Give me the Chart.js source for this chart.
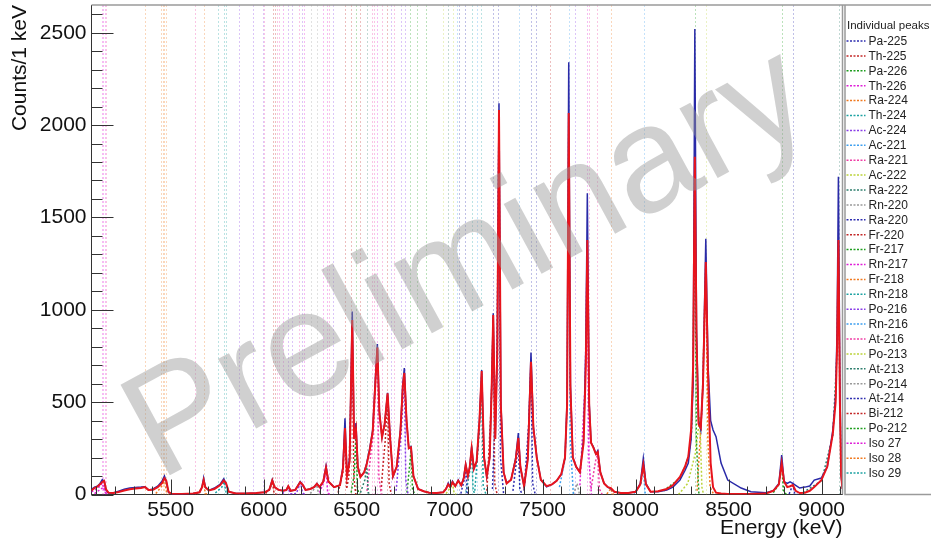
<!DOCTYPE html>
<html>
<head>
<meta charset="utf-8">
<script src="https://cdn.jsdelivr.net/npm/chart.js@4.4.1/dist/chart.umd.min.js"></script>
<style>
  html, body { margin: 0; padding: 0; background: #fff; }
  #wrap { width: 931px; height: 543px; }
</style>
</head>
<body>
<div id="wrap"><canvas id="spectrum"></canvas></div>
<script>
const FONT = '"Liberation Sans", Arial, sans-serif';

// legend entries (fit components)
const isotopes = ["Pa-225", "Th-225", "Pa-226", "Th-226", "Ra-224", "Th-224", "Ac-224", "Ac-221",
  "Ra-221", "Ac-222", "Ra-222", "Rn-220", "Ra-220", "Fr-220", "Fr-217", "Rn-217", "Fr-218",
  "Rn-218", "Po-216", "Rn-216", "At-216", "Po-213", "At-213", "Po-214", "At-214", "Bi-212",
  "Po-212", "Iso 27", "Iso 28", "Iso 29"];
const colorCycle = ["#2e2eb0", "#c42828", "#1f9e1f", "#e020d8", "#f07a20", "#1fa3a3",
  "#8a3fe8", "#3fa0f0", "#f03fa6", "#bcd43c", "#2f7f6e", "#9a9a9a"];
const isoColors = isotopes.map((_, i) => colorCycle[i % colorCycle.length]);

// measured spectrum (keV, counts/1 keV) and total fit
const energy = [5074, 5090, 5105, 5120, 5132, 5142, 5152, 5165, 5190, 5220, 5250, 5280, 5310, 5340,
  5362, 5380, 5405, 5430, 5452, 5466, 5476, 5488, 5505, 5560, 5620, 5655, 5668, 5677, 5686, 5705,
  5735, 5765, 5785, 5797, 5812, 5850, 5900, 5960, 6005, 6030, 6046, 6058, 6080, 6105, 6122, 6132,
  6145, 6170, 6196, 6210, 6225, 6250, 6270, 6286, 6300, 6320, 6335, 6348, 6378, 6410, 6426, 6437,
  6448, 6462, 6476, 6486, 6496, 6506, 6520, 6540, 6554, 6570, 6586, 6600, 6611, 6622, 6636, 6650,
  6666, 6680, 6695, 6715, 6735, 6748, 6756, 6768, 6780, 6792, 6805, 6830, 6860, 6890, 6930, 6965,
  6980, 6992, 7003, 7015, 7030, 7046, 7062, 7075, 7086, 7098, 7108, 7118, 7130, 7145, 7160, 7172,
  7185, 7199, 7215, 7226, 7234, 7245, 7256, 7265, 7275, 7290, 7306, 7330, 7355, 7369, 7380, 7400,
  7420, 7437, 7450, 7468, 7490, 7521, 7550, 7575, 7600, 7620, 7631, 7640, 7649, 7662, 7680, 7700,
  7720, 7732, 7740, 7750, 7760, 7772, 7786, 7796, 7810, 7830, 7850, 7867, 7885, 7920, 7960, 8000,
  8025, 8041, 8055, 8080, 8120, 8167, 8200, 8238, 8265, 8283, 8298, 8309, 8318, 8327, 8338, 8350,
  8362, 8377, 8389, 8403, 8416, 8432, 8459, 8495, 8567, 8620, 8700, 8740, 8770, 8785, 8798, 8815,
  8830, 8845, 8860, 8882, 8910, 8936, 8960, 8998, 9030, 9060, 9075, 9083, 9090, 9098, 9105, 9112];
const dataCounts = [28, 40, 45, 60, 80, 72, 25, 8, 8, 18, 28, 35, 38, 40,
  42, 25, 30, 45, 70, 100, 70, 12, 3, 3, 6, 12, 40, 90, 40, 22,
  35, 55, 85, 60, 15, 5, 5, 8, 12, 25, 80, 40, 25, 20, 25, 45,
  20, 25, 70, 50, 25, 30, 40, 60, 40, 70, 155, 70, 40, 50, 150, 413,
  100, 200, 990, 300, 387, 150, 95, 120, 170, 250, 350, 620, 815, 450, 310, 380,
  551, 300, 96, 150, 350, 600, 685, 400, 250, 259, 100, 30, 18, 10, 8, 12,
  30, 62, 40, 72, 45, 78, 50, 90, 165, 100, 150, 259, 140, 180, 400, 674,
  200, 96, 200, 600, 981, 300, 800, 2118, 500, 120, 62, 80, 200, 333, 150, 42,
  200, 768, 367, 205, 80, 42, 55, 74, 110, 200, 500, 2340, 600, 200, 150, 120,
  300, 800, 1631, 500, 280, 259, 220, 237, 120, 60, 40, 30, 15, 8, 8, 15,
  60, 196, 60, 15, 15, 24, 40, 78, 130, 170, 300, 600, 2520, 900, 400, 350,
  600, 1385, 700, 400, 349, 313, 170, 78, 35, 15, 10, 20, 60, 214, 70, 60,
  69, 60, 50, 35, 40, 46, 78, 89, 150, 349, 530, 900, 1720, 600, 100, 30];
const fitCounts = [22, 35, 42, 55, 68, 74, 28, 10, 8, 14, 22, 28, 32, 35,
  40, 25, 26, 40, 60, 88, 75, 15, 3, 3, 6, 12, 38, 78, 40, 22,
  30, 50, 75, 62, 15, 5, 5, 8, 12, 25, 76, 40, 25, 20, 25, 45,
  20, 25, 66, 52, 25, 30, 40, 58, 40, 70, 145, 70, 40, 50, 140, 360,
  100, 180, 945, 300, 355, 150, 95, 120, 165, 240, 340, 600, 795, 440, 310, 380,
  548, 300, 100, 150, 340, 585, 658, 400, 250, 255, 100, 30, 18, 10, 8, 12,
  30, 55, 40, 66, 45, 75, 50, 85, 160, 100, 150, 250, 140, 180, 400, 668,
  200, 100, 200, 590, 972, 300, 780, 2082, 480, 120, 60, 80, 190, 306, 150, 45,
  190, 719, 360, 200, 80, 45, 55, 74, 110, 200, 480, 2065, 580, 200, 150, 120,
  280, 700, 1378, 480, 280, 255, 220, 230, 120, 60, 40, 35, 15, 8, 8, 15,
  55, 160, 55, 15, 18, 30, 50, 95, 150, 205, 350, 700, 1828, 850, 380, 360,
  600, 1258, 650, 170, 40, 10, 5, 3, 3, 3, 5, 20, 55, 169, 70, 40,
  45, 51, 20, 8, 10, 20, 40, 78, 150, 330, 500, 800, 1378, 500, 100, 30];

// individual peak components: owner index into isotopes, [keV, counts] points
const peakOwner = [3, 27, 4, 28, 5, 25, 6, 11, 3, 1, 2, 10, 8, 13, 18, 2, 9, 24, 17, 5,
  13, 0, 12, 12, 7, 23, 15, 20, 16, 19, 14, 21, 28, 26, 24, 22];
const peakPoints = [
  [[5074, 15], [5110, 35], [5132, 62], [5146, 15], [5160, 0]],
  [[5090, 5], [5125, 30], [5140, 40], [5150, 5], [5160, 0]],
  [[5420, 5], [5455, 50], [5466, 82], [5478, 10], [5490, 0]],
  [[5640, 3], [5668, 35], [5677, 74], [5686, 5], [5700, 0]],
  [[5740, 8], [5775, 40], [5786, 70], [5798, 10], [5812, 0]],
  [[6010, 5], [6036, 35], [6046, 72], [6056, 5], [6070, 0]],
  [[6100, 5], [6124, 25], [6132, 40], [6142, 3], [6175, 5], [6192, 50], [6198, 62], [6208, 10], [6220, 0]],
  [[6250, 5], [6276, 35], [6286, 52], [6295, 3], [6305, 0]],
  [[6300, 10], [6324, 70], [6335, 135], [6344, 10], [6355, 0]],
  [[6400, 10], [6426, 120], [6437, 340], [6446, 30], [6458, 100], [6468, 500], [6476, 920], [6484, 100], [6495, 0]],
  [[6470, 10], [6487, 110], [6496, 330], [6504, 30], [6515, 0]],
  [[6520, 10], [6544, 80], [6554, 150], [6562, 10], [6575, 0]],
  [[6555, 20], [6578, 240], [6587, 300], [6600, 560], [6611, 780], [6619, 100], [6632, 0]],
  [[6630, 20], [6654, 300], [6666, 530], [6674, 60], [6686, 0]],
  [[6712, 20], [6740, 350], [6756, 645], [6764, 80], [6776, 0]],
  [[6770, 10], [6784, 150], [6792, 240], [6800, 30], [6812, 0]],
  [[6980, 5], [7006, 40], [7015, 62], [7024, 5], [7036, 0]],
  [[7060, 5], [7078, 80], [7086, 150], [7094, 10], [7105, 0]],
  [[7088, 10], [7110, 140], [7118, 240], [7126, 20], [7140, 0]],
  [[7135, 20], [7160, 350], [7172, 655], [7180, 50], [7195, 0]],
  [[7200, 20], [7224, 500], [7234, 960], [7242, 60], [7255, 0]],
  [[7230, 30], [7254, 700], [7265, 2070], [7273, 200], [7290, 0]],
  [[7340, 20], [7360, 190], [7369, 300], [7377, 30], [7390, 0]],
  [[7400, 20], [7426, 400], [7437, 710], [7446, 60], [7460, 0]],
  [[7590, 40], [7620, 190], [7631, 470], [7640, 2050], [7648, 300], [7665, 0]],
  [[7665, 0], [7685, 60], [7698, 0]],
  [[7700, 50], [7728, 600], [7740, 1370], [7748, 200], [7762, 0]],
  [[7760, 30], [7784, 180], [7796, 222], [7805, 30], [7820, 0]],
  [[7845, 3], [7861, 25], [7867, 32], [7875, 3], [7888, 0]],
  [[7990, 5], [8028, 55], [8041, 155], [8050, 10], [8066, 0]],
  [[8150, 20], [8240, 90], [8283, 200], [8300, 330], [8309, 690], [8318, 1810], [8326, 300], [8340, 0]],
  [[8230, 0], [8280, 60], [8320, 220], [8345, 420], [8356, 40], [8365, 0]],
  [[8330, 20], [8358, 500], [8377, 1250], [8388, 300], [8400, 40], [8420, 0]],
  [[8740, 10], [8770, 55], [8785, 165], [8795, 20], [8810, 0]],
  [[8825, 3], [8840, 40], [8846, 50], [8855, 5], [8870, 0]],
  [[8900, 10], [9000, 75], [9060, 320], [9083, 780], [9090, 1370], [9098, 480], [9108, 60]]
];

// reference line energies (keV) and their owner isotope
const lineEnergies = [5129, 5138, 5147, 5152, 5362, 5448, 5457, 5464, 5475, 5631, 5679, 5754, 5787,
  5797, 5867, 5941, 5995, 6003, 6050, 6061, 6070, 6084, 6105, 6132, 6154, 6191, 6208, 6218, 6253,
  6288, 6317, 6339, 6353, 6374, 6439, 6469, 6496, 6519, 6554, 6581, 6595, 6608, 6638, 6665, 6683,
  6701, 6737, 6760, 6787, 6826, 6871, 6966, 6989, 7016, 7041, 7050, 7082, 7118, 7145, 7168, 7231,
  7261, 7373, 7435, 7464, 7539, 7642, 7674, 7740, 7751, 7790, 7866, 8045, 8318, 8377, 8785, 8844, 9095];
const lineOwner = [3, 27, 3, 8, 4, 4, 16, 4, 28, 8, 4, 5, 17,
  5, 6, 18, 6, 8, 25, 13, 8, 8, 3, 6, 6, 8, 6, 3, 11,
  11, 3, 3, 8, 18, 1, 1, 2, 13, 10, 8, 8, 27, 20, 13, 18,
  8, 18, 6, 2, 2, 14, 9, 10, 9, 7, 24, 24, 17, 19, 5, 0,
  0, 7, 12, 24, 13, 7, 6, 15, 20, 20, 16, 19, 14, 21, 26, 24, 22];

const xTickValues = [5500, 6000, 6500, 7000, 7500, 8000, 8500, 9000];
const yTickValues = [0, 500, 1000, 1500, 2000, 2500];
const xRange = [5074, 9112];
const yRange = [0, 2650];

const toPoints = (xs, ys) => xs.map((x, i) => ({ x: x, y: ys[i] }));

const datasets = [
  { label: "Fit", data: toPoints(energy, fitCounts), borderColor: "#e8141c", borderWidth: 2, order: 0 },
  { label: "Data", data: toPoints(energy, dataCounts), borderColor: "#2a2aa8", borderWidth: 1.5, order: 1 }
];
peakPoints.forEach((pts, k) => {
  datasets.push({
    label: isotopes[peakOwner[k]],
    data: pts.map(p => ({ x: p[0], y: p[1] })),
    borderColor: isoColors[peakOwner[k]],
    borderWidth: 1.5,
    borderDash: [2, 2],
    order: 2
  });
});

// faint dotted reference lines behind the data
const refLines = {
  id: "refLines",
  beforeDatasetsDraw(chart) {
    const { ctx, chartArea, scales } = chart;
    ctx.save();
    ctx.lineWidth = 1;
    ctx.setLineDash([2, 2]);
    ctx.globalAlpha = 0.3;
    lineEnergies.forEach((e, i) => {
      const px = Math.round(scales.x.getPixelForValue(e)) + 0.5;
      ctx.strokeStyle = isoColors[lineOwner[i]];
      ctx.beginPath();
      ctx.moveTo(px, chartArea.top);
      ctx.lineTo(px, chartArea.bottom);
      ctx.stroke();
    });
    ctx.restore();
  }
};

// ROOT style inner ticks + frame
const innerTicks = {
  id: "innerTicks",
  afterDatasetsDraw(chart) {
    const { ctx, chartArea, scales } = chart;
    const { left, right, top, bottom } = chartArea;
    ctx.save();
    ctx.strokeStyle = "#333";
    ctx.lineWidth = 1;
    for (let v = 0; v <= yRange[1]; v += 100) {
      const py = Math.round(scales.y.getPixelForValue(v)) + 0.5;
      ctx.beginPath();
      ctx.moveTo(left, py);
      ctx.lineTo(left + (v % 500 === 0 ? 22 : 11), py);
      ctx.stroke();
    }
    for (let v = 5100; v <= xRange[1]; v += 100) {
      const px = Math.round(scales.x.getPixelForValue(v)) + 0.5;
      ctx.beginPath();
      ctx.moveTo(px, bottom);
      ctx.lineTo(px, bottom - (v % 500 === 0 ? 15 : 8));
      ctx.stroke();
    }
    ctx.strokeStyle = "#9a9a9a";
    ctx.lineWidth = 1.5;
    ctx.beginPath();
    ctx.moveTo(left, top);
    ctx.lineTo(chart.width, top);
    ctx.moveTo(right, top);
    ctx.lineTo(right, bottom);
    ctx.stroke();
    ctx.restore();
  }
};

// watermark + legend box
const overlay = {
  id: "overlay",
  afterDraw(chart) {
    const { ctx, chartArea } = chart;
    ctx.save();
    ctx.translate(469, 266);
    ctx.rotate(-28.5 * Math.PI / 180);
    ctx.font = "150px " + FONT;
    ctx.fillStyle = "rgba(150,150,150,0.45)";
    ctx.textAlign = "center";
    ctx.textBaseline = "middle";
    ctx.fillText("Preliminary", 0, 0);
    ctx.restore();

    const x0 = chartArea.right + 2.5;
    ctx.save();
    ctx.strokeStyle = "#9a9a9a";
    ctx.lineWidth = 1.5;
    ctx.beginPath();
    ctx.moveTo(x0, chartArea.top);
    ctx.lineTo(x0, chartArea.bottom);
    ctx.lineTo(chart.width, chartArea.bottom);
    ctx.stroke();
    ctx.textBaseline = "middle";
    ctx.fillStyle = "#222";
    ctx.font = "11.5px " + FONT;
    ctx.fillText("Individual peaks", x0 + 2, 26);
    ctx.font = "12px " + FONT;
    isotopes.forEach((name, i) => {
      const y = 41 + i * 14.9;
      ctx.strokeStyle = isoColors[i];
      ctx.lineWidth = 1.5;
      ctx.setLineDash([2, 1.5]);
      ctx.beginPath();
      ctx.moveTo(x0 + 1.5, y);
      ctx.lineTo(x0 + 20.5, y);
      ctx.stroke();
      ctx.setLineDash([]);
      ctx.fillStyle = "#222";
      ctx.fillText(name, x0 + 23.5, y + 0.5);
    });
    ctx.restore();
  }
};

const noPad = (scale) => {
  scale.paddingTop = 0;
  scale.paddingBottom = 0;
  scale.paddingLeft = 0;
  scale.paddingRight = 0;
};

const ctx = document.getElementById("spectrum");
new Chart(ctx, {
  type: "line",
  data: { datasets: datasets },
  options: {
    responsive: true,
    maintainAspectRatio: false,
    animation: false,
    events: [],
    layout: { padding: { top: 5, right: 88.5, left: 0, bottom: 0 } },
    elements: {
      point: { radius: 0 },
      line: { tension: 0, fill: false }
    },
    scales: {
      x: {
        type: "linear",
        min: xRange[0],
        max: xRange[1],
        afterBuildTicks: (scale) => { scale.ticks = xTickValues.map(v => ({ value: v })); },
        afterFit: (scale) => { scale.height = 48.5; noPad(scale); },
        grid: { display: false, drawTicks: false },
        border: { display: true, color: "#333", width: 1 },
        ticks: {
          color: "#111", font: { family: FONT, size: 21 }, padding: 3, maxRotation: 0,
          callback: (v) => String(v)
        },
        title: {
          display: true, text: "Energy (keV)", align: "end", color: "#111",
          font: { family: FONT, size: 21 }, padding: { top: 0, bottom: 2 }
        }
      },
      y: {
        min: yRange[0],
        max: yRange[1],
        afterBuildTicks: (scale) => { scale.ticks = yTickValues.map(v => ({ value: v })); },
        afterFit: (scale) => { scale.width = 91.5; noPad(scale); },
        grid: { display: false, drawTicks: false },
        border: { display: true, color: "#333", width: 1 },
        ticks: {
          color: "#111", font: { family: FONT, size: 21 }, padding: 5,
          callback: (v) => String(v)
        },
        title: {
          display: true, text: "Counts/1 keV", align: "end", color: "#111",
          font: { family: FONT, size: 21 }, padding: { top: 8, bottom: 0 }
        }
      }
    },
    plugins: {
      legend: { display: false },
      tooltip: { enabled: false }
    }
  },
  plugins: [refLines, innerTicks, overlay]
});
</script>
</body>
</html>
